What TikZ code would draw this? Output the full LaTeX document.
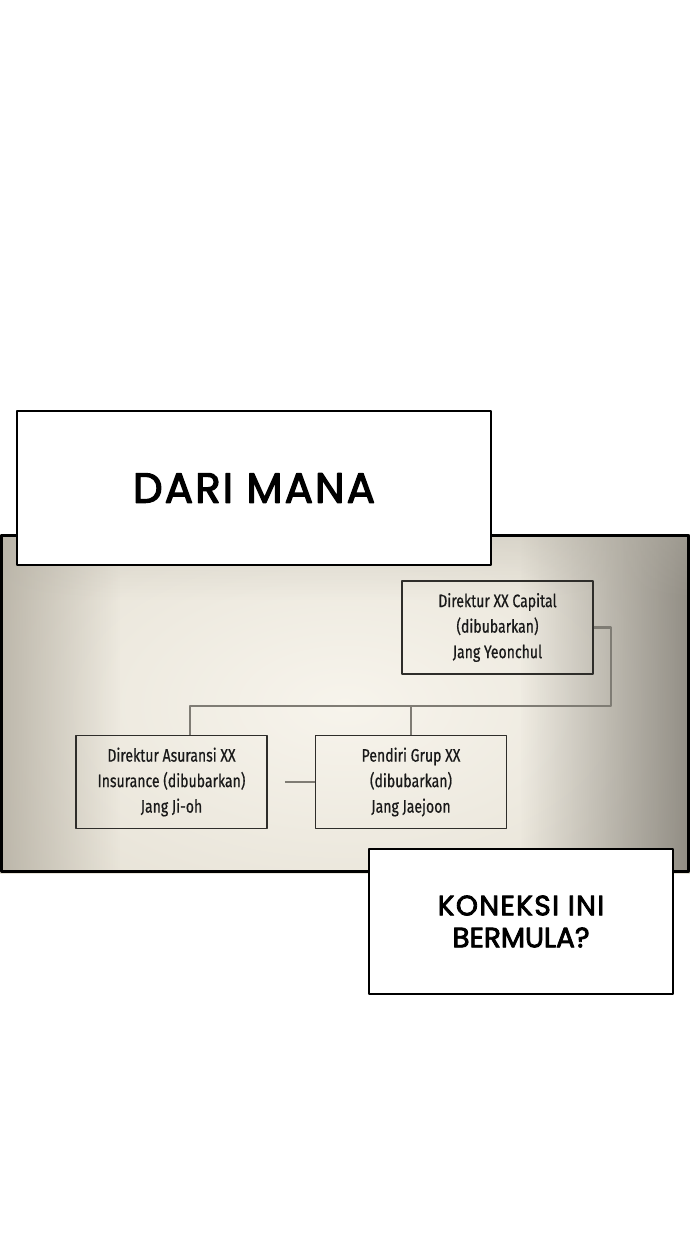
\documentclass[tikz,border=0pt]{standalone}
\usepackage{fontspec}
\usetikzlibrary{fadings}
\newfontfamily\boxfont[FakeStretch=0.78, FakeBold=0.6]{Fira Sans}
\newfontfamily\comicfont[FakeBold=3]{Poppins}
\definecolor{paper}{HTML}{F7F4EC}
\definecolor{papermid}{HTML}{E2DDD0}
\definecolor{paperleft}{HTML}{A39D90}
\definecolor{paperright}{HTML}{6E6A62}
\definecolor{linkgray}{HTML}{7F7C74}
\definecolor{boxline}{HTML}{2E2D2A}

\tikzset{
  caption/.style={draw=black, line width=2pt, fill=white, align=center,
    font=\comicfont, text=black},
  orgbox/.style={draw=boxline, line width=1.5pt, minimum width=191pt, minimum height=93pt,
    align=center, font=\boxfont\fontsize{18}{25.5}\selectfont, text=black!90},
  link/.style={draw=linkgray, line width=2.5pt}
}

\begin{document}
\begin{tikzpicture}[x=1pt, y=-1pt, line join=round]
        \useasboundingbox (0,0) rectangle (690,1240);
        \fill[white] (0,0) rectangle (690,1240);
        % panel with paper background
        \begin{scope}
            \clip (0,534) rectangle (690,873);
            \shade[inner color=paper, outer color=papermid] (-200,400) rectangle (890,1010);
            \fill[paperleft, path fading=east] (-70,534) rectangle (120,873);
            \fill[paperright, path fading=west] (520,534) rectangle (760,873);
            \fill[papermid!80!black, path fading=south, opacity=0.5] (0,500) rectangle (690,600);
        \end{scope}
        \draw[line width=3pt] (1.5,535.5) rectangle (688.5,871.5);
        % chart boxes
        \node[orgbox] (capital) at (497.5,627.5) {Direktur XX Capital\\(dibubarkan)\\Jang Yeonchul};
        \node[orgbox] (asuransi) at (171.5,782) {Direktur Asuransi XX\\Insurance (dibubarkan)\\Jang Ji-oh};
        \node[orgbox] (pendiri) at (411,782) {Pendiri Grup XX\\(dibubarkan)\\Jang Jaejoon};
        % chart lines
        \coordinate (busR) at (611,706);
        \coordinate (busL) at (190,706);
        \draw[link] (capital.east) -| (busR) -- (busL) -- (busL |- asuransi.north);
        \draw[link] (pendiri.north) -- (pendiri.north |- busR);
        \draw[link, shorten <=17pt] (asuransi) -- (pendiri);
        % captions
        \node[caption, minimum width=474pt, minimum height=154pt, font=\comicfont\fontsize{42}{44}\selectfont]
            (top) at (254,488) {\addfontfeature{LetterSpace=5}DARI MANA};
        \node[caption, minimum width=304pt, minimum height=145pt, font=\comicfont\fontsize{28}{32}\selectfont]
            (bottom) at (521,921.5) {\addfontfeature{LetterSpace=5}KONEKSI INI\\BERMULA?};
    \end{tikzpicture}
\end{document}
